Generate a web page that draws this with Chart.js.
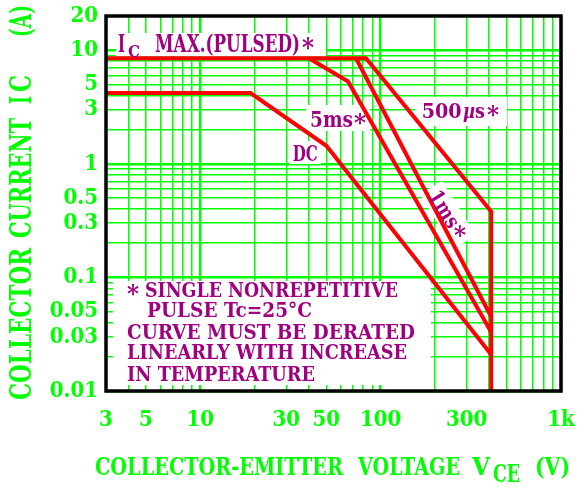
<!DOCTYPE html>
<html><head><meta charset="utf-8">
<script src="https://cdn.jsdelivr.net/npm/chart.js@4.4.1/dist/chart.umd.min.js"></script>
<style>html,body{margin:0;padding:0;background:#fff;overflow:hidden}canvas{display:block}</style>
</head><body>
<canvas id="c" width="578" height="489"></canvas>
<script>
// ---- axis ranges and tick labels ----
const xRange = [3, 1000];
const yRange = [0.01, 20];
const xTickLabels = [3, 5, 10, 30, 50, 100, 300, 1000];
const yTickLabels = [0.01, 0.03, 0.05, 0.1, 0.3, 0.5, 1, 3, 5, 10, 20];

// ---- safe operating area curves (VCE [V], IC [A]) ----
const dcV    = [3, 19, 50, 410];
const dcI    = [4.2, 4.2, 1.44, 0.021];
const ms5V   = [40, 66, 410];
const ms5I   = [8.5, 5.3, 0.033];
const ms1V   = [73, 410];
const ms1I   = [8.5, 0.045];
const us500V = [3, 83, 410, 410];
const us500I = [8.5, 8.5, 0.38, 0.01];

const GREEN = '#00ff00', RED = '#ff0000', PURPLE = '#a0007f';
const TICK_FONT = "'DejaVu Serif Condensed', 'DejaVu Serif', serif";

function logGrid(min, max) {
  const out = [];
  for (let e = Math.floor(Math.log10(min)); e <= Math.ceil(Math.log10(max)); e++) {
    for (let m = 1; m <= 9; m++) {
      const v = parseFloat((m * Math.pow(10, e)).toPrecision(6));
      if (v >= min - 1e-12 && v <= max + 1e-12) out.push(v);
    }
  }
  if (!out.includes(max)) out.push(max);
  return out;
}
function isDecade(v) {
  if (!v) return false;
  const l = Math.log10(v);
  return Math.abs(l - Math.round(l)) < 1e-9;
}
function pts(xs, ys) { return xs.map((x, i) => ({x: x, y: ys[i]})); }
function inList(v, list) { return list.some(t => Math.abs(t - v) / t < 1e-6); }

function fitText(ctx, txt, left, base, size, width, color, italic) {
  ctx.save();
  ctx.font = (italic ? 'italic ' : '') + 'bold ' + size + 'px "DejaVu Serif"';
  const w = ctx.measureText(txt).width;
  ctx.translate(left, base);
  ctx.scale(width / w, 1);
  ctx.fillStyle = color;
  ctx.textAlign = 'left';
  ctx.textBaseline = 'alphabetic';
  ctx.fillText(txt, 0, 0);
  ctx.restore();
}

const whiteBoxes = [
  [116, 33, 210, 23],
  [306, 105, 64, 26],
  [289, 141, 32, 23],
  [415, 97, 92, 29],
  [113, 281, 318, 104]
];

const decor = {
  id: 'decor',
  beforeDraw(chart) {
    const ctx = chart.ctx;
    ctx.save();
    ctx.fillStyle = '#fff';
    ctx.fillRect(0, 0, chart.width, chart.height);
    ctx.restore();
  },
  beforeDatasetsDraw(chart) {
    const ctx = chart.ctx;
    ctx.save();
    ctx.fillStyle = '#fff';
    whiteBoxes.forEach(b => ctx.fillRect(b[0], b[1], b[2], b[3]));
    ctx.translate(448, 215);
    ctx.rotate(58 * Math.PI / 180);
    ctx.fillRect(-32, -13, 64, 26);
    ctx.restore();
  },
  afterDraw(chart) {
    const ctx = chart.ctx;
    const a = chart.chartArea;
    ctx.save();
    ctx.strokeStyle = '#000';
    ctx.lineWidth = 3.5;
    ctx.strokeRect(a.left, a.top, a.right - a.left, a.bottom - a.top);
    ctx.restore();

    // curve labels
    fitText(ctx, 'I', 118, 52, 23.3, 7, PURPLE);
    fitText(ctx, 'C', 128, 57, 16.5, 12, PURPLE);
    fitText(ctx, 'MAX.(PULSED)', 155, 52, 23.3, 145, PURPLE);
    fitText(ctx, '*', 302, 56, 26, 12, PURPLE);
    fitText(ctx, '5ms', 310, 126.7, 22, 43, PURPLE);
    fitText(ctx, '*', 354, 131, 25, 12, PURPLE);
    fitText(ctx, 'DC', 292.7, 160.7, 21.5, 25, PURPLE);
    fitText(ctx, '500', 421.7, 118.3, 21, 40, PURPLE);
    fitText(ctx, '\u00b5', 463, 118.3, 21, 12, PURPLE, true);
    fitText(ctx, 's', 475, 118.3, 21, 10, PURPLE);
    fitText(ctx, '*', 487, 123, 25, 12, PURPLE);
    ctx.save();
    ctx.translate(448, 215);
    ctx.rotate(58 * Math.PI / 180);
    fitText(ctx, '1ms', -27, 7, 21, 40, PURPLE);
    fitText(ctx, '*', 14, 11, 25, 12, PURPLE);
    ctx.restore();

    // note
    fitText(ctx, '*', 127, 302, 25, 12, PURPLE);
    fitText(ctx, 'SINGLE NONREPETITIVE', 145, 296.7, 20.5, 253, PURPLE);
    fitText(ctx, 'PULSE Tc=25\u00b0C', 147, 316.7, 20.5, 165, PURPLE);
    fitText(ctx, 'CURVE MUST BE DERATED', 127, 339, 20.5, 288, PURPLE);
    fitText(ctx, 'LINEARLY WITH INCREASE', 127, 359.3, 20.5, 280, PURPLE);
    fitText(ctx, 'IN TEMPERATURE', 127, 380.7, 20.5, 188, PURPLE);

    // x axis title
    fitText(ctx, 'COLLECTOR-EMITTER', 95, 475, 23.3, 248, GREEN);
    fitText(ctx, 'VOLTAGE', 358, 475, 23.3, 102, GREEN);
    fitText(ctx, 'V', 472, 475, 23.3, 18, GREEN);
    fitText(ctx, 'CE', 493, 482, 23.3, 27, GREEN);
    fitText(ctx, '(V)', 535, 475, 23.3, 35, GREEN);

    // y axis title (rotated)
    ctx.save();
    ctx.translate(31, 0);
    ctx.rotate(-Math.PI / 2);
    fitText(ctx, 'COLLECTOR', -400, 0, 29, 152, GREEN);
    fitText(ctx, 'CURRENT', -238, 0, 29, 120, GREEN);
    fitText(ctx, 'I', -104, 0, 29, 8, GREEN);
    fitText(ctx, 'C', -92, 0, 29, 17, GREEN);
    fitText(ctx, '(A)', -37, 0, 29, 32, GREEN);
    ctx.restore();
  }
};

const xGrid = logGrid(xRange[0], xRange[1]);
const yGrid = logGrid(yRange[0], yRange[1]);

const lineStyle = {showLine: true, borderColor: RED, borderWidth: 4, pointRadius: 0, fill: false, tension: 0, borderJoinStyle: 'miter'};

new Chart(document.getElementById('c'), {
  type: 'scatter',
  data: {
    datasets: [
      Object.assign({label: 'DC', data: pts(dcV, dcI)}, lineStyle),
      Object.assign({label: '5ms', data: pts(ms5V, ms5I)}, lineStyle),
      Object.assign({label: '1ms', data: pts(ms1V, ms1I)}, lineStyle),
      Object.assign({label: '500us', data: pts(us500V, us500I)}, lineStyle)
    ]
  },
  options: {
    responsive: false,
    animation: false,
    devicePixelRatio: 1,
    layout: {padding: {top: 16, right: 17, left: 0, bottom: 0}},
    plugins: {legend: {display: false}, tooltip: {enabled: false}},
    scales: {
      x: {
        type: 'logarithmic',
        min: xRange[0], max: xRange[1],
        afterBuildTicks: s => { s.ticks = xGrid.map(v => ({value: v})); },
        afterFit: s => { s.height = 98; s.paddingLeft = 0; s.paddingRight = 0; },
        border: {display: false},
        grid: {
          drawTicks: false,
          color: GREEN,
          lineWidth: c => (c.tick && isDecade(c.tick.value)) ? 2.5 : 1.5
        },
        ticks: {
          autoSkip: false, maxRotation: 0, minRotation: 0, padding: 16,
          color: GREEN,
          font: {family: TICK_FONT, size: 22, weight: 'bold'},
          callback: v => inList(v, xTickLabels) ? (v >= 1000 ? (v / 1000) + 'k' : String(v)) : ''
        }
      },
      y: {
        type: 'logarithmic',
        min: yRange[0], max: yRange[1],
        afterBuildTicks: s => { s.ticks = yGrid.map(v => ({value: v})); },
        afterFit: s => { s.width = 106; s.paddingTop = 0; s.paddingBottom = 0; },
        border: {display: false},
        grid: {
          drawTicks: false,
          color: GREEN,
          lineWidth: c => (c.tick && isDecade(c.tick.value)) ? 2.5 : 1.5
        },
        ticks: {
          autoSkip: false, padding: 8,
          color: GREEN,
          font: {family: TICK_FONT, size: 22, weight: 'bold'},
          callback: v => inList(v, yTickLabels) ? String(v) : ''
        }
      }
    }
  },
  plugins: [decor]
});
</script>
</body></html>
